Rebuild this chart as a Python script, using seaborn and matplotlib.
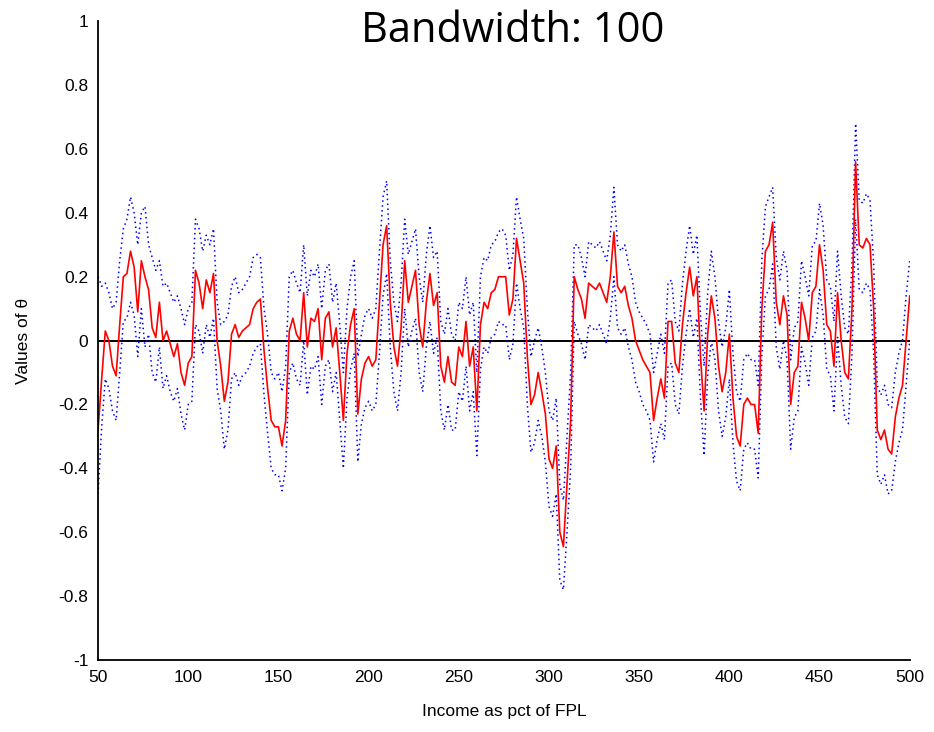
import numpy as np
import pandas as pd
import matplotlib
matplotlib.use("Agg")
import matplotlib.pyplot as plt
import seaborn as sns

# ── data (every 2 pct of FPL) ────────────────────────────────────────────────
income = list(range(50, 501, 2))

theta = [
    -0.28, -0.12, 0.03, 0.00, -0.08, -0.11, 0.05, 0.20, 0.21, 0.28,
    0.23, 0.09, 0.25, 0.20, 0.16, 0.04, 0.01, 0.12, 0.00, 0.03,
    -0.01, -0.05, -0.01, -0.10, -0.14, -0.07, -0.05, 0.22, 0.18, 0.10,
    0.19, 0.15, 0.21, 0.00, -0.08, -0.19, -0.13, 0.02, 0.05, 0.01,
    0.03, 0.04, 0.05, 0.10, 0.12, 0.13, -0.03, -0.15, -0.25, -0.27,
    -0.27, -0.33, -0.25, 0.03, 0.07, 0.02, 0.00, 0.15, -0.02, 0.07,
    0.06, 0.10, -0.06, 0.07, 0.09, -0.02, 0.04, -0.10, -0.25, -0.04,
    0.05, 0.10, -0.23, -0.12, -0.07, -0.05, -0.08, -0.06, 0.12, 0.30,
    0.36, 0.12, -0.02, -0.08, 0.04, 0.25, 0.12, 0.17, 0.22, 0.05,
    -0.02, 0.12, 0.21, 0.11, 0.15, -0.08, -0.13, -0.05, -0.13, -0.14,
    -0.02, -0.05, 0.06, -0.08, -0.02, -0.22, 0.05, 0.12, 0.10, 0.15,
    0.16, 0.20, 0.20, 0.20, 0.08, 0.13, 0.32, 0.25, 0.18, -0.05,
    -0.20, -0.17, -0.10, -0.16, -0.23, -0.37, -0.40, -0.33, -0.60, -0.645,
    -0.45, -0.25, 0.20, 0.16, 0.13, 0.07, 0.18, 0.17, 0.16, 0.18,
    0.15, 0.12, 0.20, 0.34, 0.17, 0.15, 0.17, 0.11, 0.07, 0.00,
    -0.03, -0.06, -0.08, -0.10, -0.25, -0.18, -0.12, -0.18, 0.06, 0.06,
    -0.07, -0.10, 0.05, 0.15, 0.23, 0.14, 0.20, -0.05, -0.22, 0.02,
    0.14, 0.07, -0.08, -0.16, -0.10, 0.02, -0.18, -0.30, -0.33, -0.20,
    -0.18, -0.20, -0.20, -0.29, 0.10, 0.28, 0.30, 0.37, 0.12, 0.05,
    0.14, 0.08, -0.20, -0.10, -0.08, 0.12, 0.07, 0.00, 0.15, 0.17,
    0.30, 0.22, 0.05, 0.03, -0.08, 0.15, 0.00, -0.10, -0.12, 0.10,
    0.56, 0.30, 0.29, 0.32, 0.30, 0.10, -0.28, -0.31, -0.28, -0.34,
    -0.355, -0.24, -0.18, -0.14, 0.00, 0.14,
]

upper = [
    0.20, 0.17, 0.18, 0.15, 0.10, 0.12, 0.25, 0.35, 0.38, 0.45,
    0.40, 0.30, 0.40, 0.42, 0.30, 0.26, 0.22, 0.25, 0.17, 0.18,
    0.15, 0.12, 0.14, 0.10, 0.05, 0.10, 0.12, 0.38, 0.35, 0.28,
    0.33, 0.30, 0.35, 0.12, 0.05, 0.06, 0.08, 0.17, 0.20, 0.15,
    0.16, 0.18, 0.20, 0.26, 0.27, 0.26, 0.10, 0.02, -0.10, -0.12,
    -0.10, -0.16, -0.08, 0.20, 0.22, 0.18, 0.15, 0.30, 0.14, 0.22,
    0.20, 0.24, 0.10, 0.22, 0.24, 0.12, 0.18, 0.05, -0.10, 0.10,
    0.20, 0.25, -0.05, 0.02, 0.08, 0.10, 0.07, 0.10, 0.28, 0.45,
    0.50, 0.25, 0.12, 0.06, 0.18, 0.38, 0.27, 0.31, 0.35, 0.20,
    0.12, 0.27, 0.36, 0.26, 0.28, 0.06, 0.02, 0.10, 0.02, 0.00,
    0.12, 0.10, 0.20, 0.08, 0.12, -0.10, 0.20, 0.26, 0.25, 0.30,
    0.31, 0.34, 0.35, 0.33, 0.22, 0.27, 0.45, 0.38, 0.32, 0.10,
    -0.05, 0.00, 0.04, -0.02, -0.10, -0.22, -0.25, -0.18, -0.45, -0.50,
    -0.30, -0.10, 0.30, 0.30, 0.26, 0.20, 0.31, 0.30, 0.29, 0.31,
    0.28, 0.25, 0.33, 0.48, 0.30, 0.28, 0.30, 0.24, 0.20, 0.12,
    0.09, 0.07, 0.05, 0.02, -0.10, -0.04, 0.02, -0.04, 0.18, 0.19,
    0.06, 0.03, 0.18, 0.28, 0.36, 0.27, 0.33, 0.08, -0.08, 0.15,
    0.28, 0.20, 0.06, -0.02, 0.04, 0.16, -0.04, -0.16, -0.19, -0.06,
    -0.04, -0.06, -0.06, -0.14, 0.25, 0.42, 0.45, 0.48, 0.26, 0.19,
    0.28, 0.22, -0.06, 0.04, 0.06, 0.25, 0.20, 0.14, 0.30, 0.31,
    0.43, 0.36, 0.19, 0.17, 0.06, 0.28, 0.14, 0.04, 0.02, 0.24,
    0.68, 0.44, 0.43, 0.46, 0.44, 0.24, -0.14, -0.17, -0.14, -0.20,
    -0.21, -0.10, -0.04, 0.00, 0.14, 0.25,
]

lower = [
    -0.48, -0.27, -0.12, -0.15, -0.22, -0.25, -0.10, 0.06, 0.07, 0.12,
    0.08, -0.05, 0.10, -0.02, 0.02, -0.10, -0.13, -0.02, -0.15, -0.11,
    -0.16, -0.19, -0.15, -0.23, -0.28, -0.20, -0.19, 0.05, 0.03, -0.04,
    0.05, 0.01, 0.07, -0.15, -0.22, -0.34, -0.28, -0.12, -0.10, -0.14,
    -0.11, -0.10, -0.08, -0.04, -0.02, -0.01, -0.17, -0.29, -0.40, -0.42,
    -0.42, -0.47, -0.40, -0.10, -0.07, -0.12, -0.14, 0.00, -0.17, -0.08,
    -0.09, -0.05, -0.20, -0.08, -0.06, -0.16, -0.10, -0.25, -0.40, -0.18,
    -0.09, -0.04, -0.38, -0.26, -0.21, -0.19, -0.22, -0.20, -0.04, 0.14,
    0.21, -0.02, -0.16, -0.22, -0.10, 0.10, -0.02, 0.03, 0.07, -0.10,
    -0.16, -0.02, 0.06, -0.04, 0.01, -0.22, -0.28, -0.20, -0.28, -0.28,
    -0.16, -0.19, -0.08, -0.22, -0.16, -0.36, -0.09, -0.02, -0.04, 0.01,
    0.02, 0.06, 0.05, 0.05, -0.06, -0.01, 0.18, 0.10, 0.04, -0.20,
    -0.35, -0.32, -0.25, -0.30, -0.38, -0.52, -0.55, -0.48, -0.75, -0.78,
    -0.60, -0.40, 0.06, 0.02, -0.01, -0.06, 0.05, 0.04, 0.03, 0.05,
    0.02, -0.01, 0.07, 0.20, 0.04, 0.02, 0.04, -0.02, -0.06, -0.13,
    -0.16, -0.20, -0.22, -0.25, -0.38, -0.31, -0.26, -0.31, -0.08, -0.07,
    -0.20, -0.23, -0.08, 0.02, 0.10, 0.01, 0.07, -0.18, -0.36, -0.11,
    0.00, -0.06, -0.22, -0.30, -0.24, -0.12, -0.32, -0.44, -0.47, -0.34,
    -0.32, -0.34, -0.34, -0.43, -0.05, 0.14, 0.16, 0.24, -0.02, -0.09,
    0.00, -0.06, -0.34, -0.24, -0.22, -0.02, -0.07, -0.14, 0.01, 0.03,
    0.16, 0.08, -0.09, -0.11, -0.22, 0.01, -0.14, -0.24, -0.26, -0.04,
    0.38, 0.16, 0.15, 0.18, 0.16, -0.04, -0.42, -0.45, -0.42, -0.48,
    -0.47, -0.38, -0.32, -0.28, -0.14, 0.00,
]

x_ticks = [50, 100, 150, 200, 250, 300, 350, 400, 450, 500]
y_ticks = [-1, -0.8, -0.6, -0.4, -0.2, 0, 0.2, 0.4, 0.6, 0.8, 1]
y_tick_labels = ["-1", "-0.8", "-0.6", "-0.4", "-0.2", "0", "0.2", "0.4", "0.6", "0.8", "1"]

df = pd.DataFrame({"income": income, "theta": theta, "upper": upper, "lower": lower})

# ── plot ──────────────────────────────────────────────────────────────────────
sns.set_style("white")
plt.rcParams["font.family"] = ["Liberation Sans", "DejaVu Sans"]
plt.rcParams["text.color"] = "black"
plt.rcParams["axes.labelcolor"] = "black"

fig = plt.figure(figsize=(9.34, 7.32), dpi=100)
ax = fig.add_axes([0.105, 0.0984, 0.869, 0.8726])

for col in ["upper", "lower"]:
    sns.lineplot(data=df, x="income", y=col, ax=ax, color="blue",
                 linestyle=(0, (1, 2.2)), linewidth=1.1, errorbar=None)
sns.lineplot(data=df, x="income", y="theta", ax=ax, color="red",
             linewidth=1.2, errorbar=None)
ax.axhline(0, color="black", linewidth=1.4, zorder=1)

ax.set_xlim(50, 500)
ax.set_ylim(-1, 1)
ax.set_xticks(x_ticks)
ax.set_xticklabels([str(t) for t in x_ticks], fontsize=12.5)
ax.set_yticks(y_ticks)
ax.set_yticklabels(y_tick_labels, fontsize=12.5)
ax.tick_params(direction="in", length=6, width=1.2, colors="black", pad=7)
ax.set_xlabel("Income as pct of FPL", fontsize=12.5, labelpad=14)
ax.set_ylabel("Values of θ", fontsize=12.5, labelpad=20)

for side in ["top", "right"]:
    ax.spines[side].set_visible(False)
for side in ["left", "bottom"]:
    ax.spines[side].set_color("black")
    ax.spines[side].set_linewidth(1.3)

fig.text(0.549, 0.958, "Bandwidth: 100", fontsize=30, ha="center", va="center",
         color="black", family=["Open Sans", "DejaVu Sans"])

fig.savefig("out.png", dpi=100, facecolor="white")
